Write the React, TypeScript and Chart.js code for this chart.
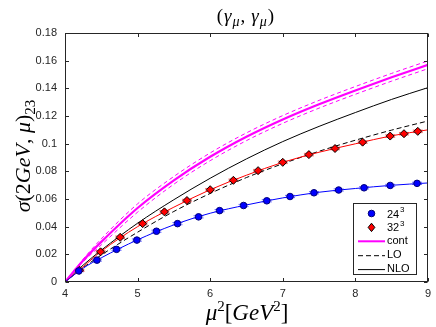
import React, { useEffect, useRef } from "react";
import { Chart, registerables } from "chart.js";

Chart.register(...registerables);

const W = 436;
const H = 327;

// ---------- data ----------
const xTickVals = [4, 5, 6, 7, 8, 9];
const yTickVals = [0, 0.02, 0.04, 0.06, 0.08, 0.1, 0.12, 0.14, 0.16, 0.18];

// 24^3 lattice points
const x24 = [4.19, 4.44, 4.71, 4.99, 5.26, 5.55, 5.84, 6.13, 6.46, 6.78, 7.1, 7.43, 7.77, 8.12, 8.48, 8.85];
const y24 = [0.008, 0.0158, 0.0236, 0.0303, 0.0367, 0.0422, 0.0471, 0.0516, 0.0553, 0.0587, 0.0618, 0.0645, 0.0665, 0.0681, 0.0698, 0.0713];
const err24 = [0.0006, 0.0007, 0.0007, 0.0008, 0.0008, 0.0008, 0.0008, 0.0008, 0.0008, 0.0008, 0.0008, 0.0008, 0.0008, 0.0008, 0.0008, 0.0008];

// 32^3 lattice points
const x32 = [4.2, 4.49, 4.76, 5.07, 5.37, 5.68, 6.0, 6.32, 6.66, 7.0, 7.36, 7.72, 8.1, 8.48, 8.67, 8.86];
const y32 = [0.0085, 0.0218, 0.0323, 0.0422, 0.0507, 0.0589, 0.0667, 0.0735, 0.0805, 0.0865, 0.0921, 0.0965, 0.1011, 0.1055, 0.1072, 0.1089];
const err32 = [0.0008, 0.0009, 0.0009, 0.0009, 0.0009, 0.0009, 0.0009, 0.0009, 0.0009, 0.0009, 0.0009, 0.0009, 0.0009, 0.0009, 0.0009, 0.0009];

// curves sampled at curveX
const curveX = [4, 4.25, 4.5, 5, 5.5, 6, 6.5, 7, 7.5, 8, 8.5, 9];
const fit24Y = [0, 0.01, 0.0175, 0.0305, 0.0413, 0.0497, 0.0557, 0.0608, 0.0649, 0.0676, 0.0699, 0.0716];
const fit32Y = [0, 0.011, 0.0222, 0.04, 0.0541, 0.0667, 0.0772, 0.0865, 0.0938, 0.0999, 0.1057, 0.11];
const contY = [0, 0.0155, 0.029, 0.0535, 0.0735, 0.0905, 0.105, 0.1175, 0.1285, 0.1385, 0.148, 0.157];
const contUpperY = [0, 0.0165, 0.0312, 0.0565, 0.0763, 0.0933, 0.1078, 0.1203, 0.1313, 0.1413, 0.1508, 0.1598];
const contLowerY = [0, 0.0145, 0.0268, 0.0505, 0.0707, 0.0877, 0.1022, 0.1147, 0.1257, 0.1357, 0.1452, 0.1542];
const loY = [0, 0.0103, 0.0195, 0.036, 0.051, 0.064, 0.0755, 0.0855, 0.0945, 0.1025, 0.1098, 0.1164];
const nloY = [0, 0.0122, 0.023, 0.0425, 0.0595, 0.075, 0.089, 0.1015, 0.1125, 0.1225, 0.132, 0.1405];

const legendLabels = ["24", "32", "cont", "LO", "NLO"];

// ---------- styles ----------
const AXIS = "#262626";
const BLUE = "#0000ff";
const RED = "#ff0000";
const MAGENTA = "#ff00ff";
const SANS = '"Liberation Sans", Arial, Helvetica, sans-serif';
const SERIF = '"Liberation Serif", "DejaVu Serif", "Times New Roman", serif';

const pts = (xs: number[], ys: number[]) => xs.map((x, i) => ({ x, y: ys[i] }));

type Part = { t: string; font: string; dy?: number; gap?: number };

function drawParts(ctx: CanvasRenderingContext2D, parts: Part[], cx: number, baseY: number) {
  const widths = parts.map((p) => {
    ctx.font = p.font;
    return ctx.measureText(p.t).width + (p.gap || 0);
  });
  const total = widths.reduce((a, b) => a + b, 0);
  let x = cx - total / 2;
  ctx.textAlign = "left";
  ctx.textBaseline = "alphabetic";
  parts.forEach((p, i) => {
    ctx.font = p.font;
    ctx.fillText(p.t, x, baseY + (p.dy || 0));
    x += widths[i];
  });
}

function drawCircle(ctx: CanvasRenderingContext2D, x: number, y: number) {
  ctx.beginPath();
  ctx.arc(x, y, 3.3, 0, Math.PI * 2);
  ctx.fillStyle = BLUE;
  ctx.fill();
  ctx.strokeStyle = "#00007a";
  ctx.lineWidth = 1;
  ctx.stroke();
}

function drawDiamond(ctx: CanvasRenderingContext2D, x: number, y: number) {
  const r = 4.2;
  ctx.beginPath();
  ctx.moveTo(x, y - r);
  ctx.lineTo(x + r * 0.8, y);
  ctx.lineTo(x, y + r);
  ctx.lineTo(x - r * 0.8, y);
  ctx.closePath();
  ctx.fillStyle = RED;
  ctx.fill();
  ctx.strokeStyle = "#000000";
  ctx.lineWidth = 1;
  ctx.stroke();
}

const decorPlugin = {
  id: "decor",
  beforeDatasetsDraw(chart: any) {
    const ctx: CanvasRenderingContext2D = chart.ctx;
    const xs = chart.scales.x;
    const ys = chart.scales.y;
    const bars = (xv: number[], yv: number[], ev: number[], color: string) => {
      ctx.save();
      ctx.strokeStyle = color;
      ctx.globalAlpha = 0.6;
      ctx.lineWidth = 1;
      xv.forEach((x, i) => {
        const px = xs.getPixelForValue(x);
        const p1 = ys.getPixelForValue(yv[i] + ev[i]);
        const p2 = ys.getPixelForValue(yv[i] - ev[i]);
        ctx.beginPath();
        ctx.moveTo(px, p1);
        ctx.lineTo(px, p2);
        ctx.moveTo(px - 5, p1);
        ctx.lineTo(px + 5, p1);
        ctx.moveTo(px - 5, p2);
        ctx.lineTo(px + 5, p2);
        ctx.stroke();
      });
      ctx.restore();
    };
    bars(x24, y24, err24, BLUE);
    bars(x32, y32, err32, RED);
  },
  afterDatasetsDraw(chart: any) {
    const ctx: CanvasRenderingContext2D = chart.ctx;
    const xs = chart.scales.x;
    const ys = chart.scales.y;
    const { left, right, top, bottom } = chart.chartArea;
    const L = Math.round(left) + 0.5;
    const R = Math.round(right) - 0.5;
    const T = Math.round(top) + 0.5;
    const B = Math.round(bottom) - 0.5;
    ctx.save();
    // axes box
    ctx.strokeStyle = AXIS;
    ctx.lineWidth = 1;
    ctx.strokeRect(L, T, R - L, B - T);
    // inward ticks
    const tl = 3.5;
    ctx.beginPath();
    xTickVals.forEach((v) => {
      const px = Math.round(xs.getPixelForValue(v)) + 0.5;
      ctx.moveTo(px, B);
      ctx.lineTo(px, B - tl);
      ctx.moveTo(px, T);
      ctx.lineTo(px, T + tl);
    });
    yTickVals.forEach((v) => {
      const py = Math.round(ys.getPixelForValue(v)) + 0.5;
      ctx.moveTo(L, py);
      ctx.lineTo(L + tl, py);
      ctx.moveTo(R, py);
      ctx.lineTo(R - tl, py);
    });
    ctx.stroke();

    // legend
    const bx = 353.5, by = 203.5, bw = 63, bh = 71;
    ctx.fillStyle = "#ffffff";
    ctx.fillRect(bx, by, bw, bh);
    ctx.strokeStyle = AXIS;
    ctx.lineWidth = 1;
    ctx.strokeRect(bx, by, bw, bh);
    const rowY = (i: number) => 213.5 + i * 13.9;
    const s0 = 358, s1 = 385, sc = 371.5, tx = 387;
    drawCircle(ctx, sc, rowY(0));
    drawDiamond(ctx, sc, rowY(1));
    ctx.lineCap = "butt";
    ctx.strokeStyle = MAGENTA;
    ctx.lineWidth = 2;
    ctx.beginPath();
    ctx.moveTo(s0, rowY(2));
    ctx.lineTo(s1, rowY(2));
    ctx.stroke();
    ctx.strokeStyle = "#000000";
    ctx.lineWidth = 1;
    ctx.setLineDash([5, 3]);
    ctx.beginPath();
    ctx.moveTo(s0, rowY(3) + 0.5);
    ctx.lineTo(s1, rowY(3) + 0.5);
    ctx.stroke();
    ctx.setLineDash([]);
    ctx.beginPath();
    ctx.moveTo(s0, rowY(4) + 0.5);
    ctx.lineTo(s1, rowY(4) + 0.5);
    ctx.stroke();
    ctx.fillStyle = "#000000";
    ctx.textBaseline = "middle";
    ctx.textAlign = "left";
    ctx.font = `11px ${SANS}`;
    ctx.fillText(legendLabels[0], tx, rowY(0) + 1);
    ctx.fillText(legendLabels[1], tx, rowY(1) + 1);
    ctx.font = `8px ${SANS}`;
    ctx.fillText("3", tx + 13, rowY(0) - 4);
    ctx.fillText("3", tx + 13, rowY(1) - 4);
    ctx.font = `11px ${SANS}`;
    ctx.fillText(legendLabels[2], tx, rowY(2));
    ctx.fillText(legendLabels[3], tx, rowY(3));
    ctx.fillText(legendLabels[4], tx, rowY(4));
    ctx.restore();
  },
  afterDraw(chart: any) {
    const ctx: CanvasRenderingContext2D = chart.ctx;
    const { left, right } = chart.chartArea;
    ctx.save();
    ctx.fillStyle = "#000000";
    const it = (s: number) => `italic ${s}px ${SERIF}`;
    const rm = (s: number) => `${s}px ${SERIF}`;
    // title
    drawParts(
      ctx,
      [
        { t: "(", font: rm(19), gap: 1 },
        { t: "γ", font: it(19), gap: 1 },
        { t: "μ", font: it(14), dy: 4, gap: 1 },
        { t: ",", font: rm(19), gap: 6 },
        { t: "γ", font: it(19), gap: 1 },
        { t: "μ", font: it(14), dy: 4, gap: 1 },
        { t: ")", font: rm(19) },
      ],
      (left + right) / 2 - 1,
      22
    );
    // x label
    drawParts(
      ctx,
      [
        { t: "μ", font: it(23) },
        { t: "2", font: rm(15), dy: -9 },
        { t: "[", font: rm(23) },
        { t: "GeV", font: it(23) },
        { t: "2", font: rm(15), dy: -9 },
        { t: "]", font: rm(23) },
      ],
      247,
      320
    );
    // y label (rotated)
    ctx.translate(30, 156);
    ctx.rotate(-Math.PI / 2);
    drawParts(
      ctx,
      [
        { t: "σ", font: it(22) },
        { t: "(", font: rm(22) },
        { t: "2", font: rm(22) },
        { t: "GeV", font: it(22) },
        { t: ", ", font: rm(22) },
        { t: "μ", font: it(22) },
        { t: ")", font: rm(22) },
        { t: "23", font: rm(15), dy: 5 },
      ],
      0,
      0
    );
    ctx.restore();
  },
};

export default function App() {
  const ref = useRef<HTMLCanvasElement | null>(null);

  useEffect(() => {
    document.body.style.margin = "0";
    const canvas = ref.current;
    if (!canvas) return;
    const curve = (data: any, color: string, width: number, dash: number[] = []) => ({
      type: "line",
      data,
      borderColor: color,
      borderWidth: width,
      borderDash: dash,
      pointRadius: 0,
      fill: false,
      showLine: true,
      cubicInterpolationMode: "monotone",
    });
    const chart = new Chart(canvas, {
      type: "scatter",
      data: {
        datasets: [
          {
            label: "24^3",
            data: pts(x24, y24),
            pointStyle: "circle",
            pointRadius: 3.3,
            backgroundColor: BLUE,
            borderColor: "#00007a",
            borderWidth: 1,
            showLine: false,
          },
          {
            label: "32^3",
            data: pts(x32, y32),
            pointStyle: "rectRot",
            pointRadius: 4,
            backgroundColor: RED,
            borderColor: "#000000",
            borderWidth: 1,
            showLine: false,
          },
          curve(pts(curveX, fit24Y), BLUE, 1),
          curve(pts(curveX, fit32Y), RED, 1),
          curve(pts(curveX, contY), MAGENTA, 2.2),
          curve(pts(curveX, contUpperY), MAGENTA, 1, [4, 3]),
          curve(pts(curveX, contLowerY), MAGENTA, 1, [4, 3]),
          curve(pts(curveX, loY), "#000000", 1, [5, 3]),
          curve(pts(curveX, nloY), "#000000", 1),
        ] as any,
      },
      options: {
        responsive: false,
        animation: false,
        devicePixelRatio: 1,
        layout: { padding: { top: 33, right: 6, left: 0, bottom: 0 } },
        plugins: { legend: { display: false }, tooltip: { enabled: false }, title: { display: false } },
        scales: {
          x: {
            type: "linear",
            min: 4,
            max: 9,
            grid: { display: false, drawTicks: false },
            border: { display: false },
            afterBuildTicks: (s: any) => {
              s.ticks = xTickVals.map((v) => ({ value: v }));
            },
            afterFit: (s: any) => {
              s.height = 45;
            },
            ticks: {
              padding: 5,
              color: AXIS,
              font: { family: SANS, size: 11 },
              maxRotation: 0,
              callback: (v: any) => String(v),
            },
          },
          y: {
            type: "linear",
            min: 0,
            max: 0.18,
            grid: { display: false, drawTicks: false },
            border: { display: false },
            afterBuildTicks: (s: any) => {
              s.ticks = yTickVals.map((v) => ({ value: v }));
            },
            afterFit: (s: any) => {
              s.width = 65;
            },
            ticks: {
              padding: 8,
              color: AXIS,
              font: { family: SANS, size: 11 },
              callback: (v: any) => String(Math.round(Number(v) * 100) / 100),
            },
          },
        },
      } as any,
      plugins: [decorPlugin],
    });
    return () => chart.destroy();
  }, []);

  return (
    <div style={{ position: "absolute", left: 0, top: 0, width: W, height: H, background: "#fff" }}>
      <canvas ref={ref} width={W} height={H} style={{ width: W, height: H, display: "block" }} />
    </div>
  );
}
